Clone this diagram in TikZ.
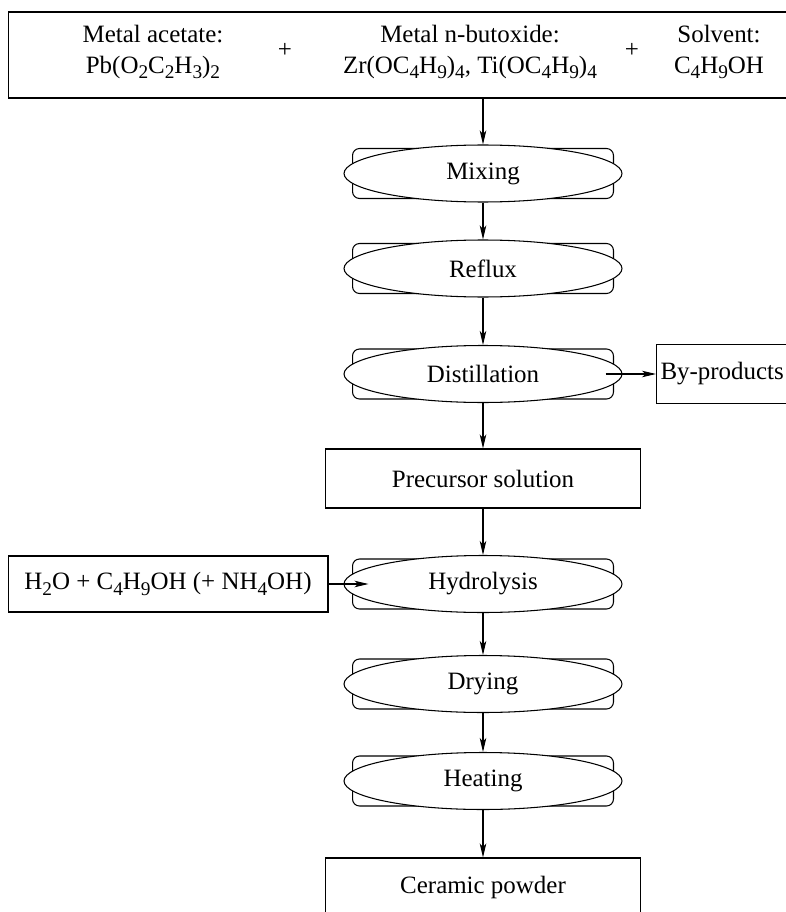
\documentclass[tikz,border=0pt]{standalone}
\usepackage{fontspec}
\setmainfont{Liberation Serif}
\usetikzlibrary{shapes.geometric,arrows.meta}
\newcommand{\chemsub}[1]{\raisebox{-0.5ex}{\fontsize{11}{12}\selectfont #1}}

\tikzset{
  proc/.style={ellipse, draw, fill=white, minimum width=5.56cm, minimum height=1.14cm, inner sep=0pt},
  procframe/.style={draw, rounded corners=0.14cm, minimum width=5.22cm, minimum height=1cm},
  flowbox/.style={rectangle, draw, minimum width=6.3cm, minimum height=1.18cm},
  flow/.style={->, >={Stealth[length=0.28cm,width=0.13cm,inset=0.07cm]}}
}

\begin{document}
\begin{tikzpicture}[x=0.02cm, y=-0.02cm, line width=0.6pt,
                    every node/.append style={font=\fontsize{14.2}{17.5}\selectfont}]
  \useasboundingbox (0,0) rectangle (786,912);
  \clip (0,0) rectangle (786,912);

  % starting materials
  \node (src) at (404,55) [draw, minimum width=15.84cm, minimum height=1.72cm] {};
  \node (acetate) at (153,52) [align=center] {Metal acetate:\\Pb(O\chemsub{2}C\chemsub{2}H\chemsub{3})\chemsub{2}};
  \node (plus1) at (285,50) {+};
  \node (butoxide) at (470,52) [align=center] {Metal n-butoxide:\\Zr(OC\chemsub{4}H\chemsub{9})\chemsub{4}, Ti(OC\chemsub{4}H\chemsub{9})\chemsub{4}};
  \node (plus2) at (632,50) {+};
  \node (solvent) at (719,52) [align=center] {Solvent:\\C\chemsub{4}H\chemsub{9}OH};

  % process steps
  \node (mixframe) at (483,173.5) [procframe] {};
  \node (mix) at (483,173.5) [proc] {Mixing};
  \node (refluxframe) at (483,268.5) [procframe] {};
  \node (reflux) at (483,268.5) [proc] {Reflux};
  \node (distframe) at (483,374) [procframe] {};
  \node (dist) at (483,374) [proc] {Distillation};
  \node (byprod) at (656,374) [draw, anchor=west, inner xsep=0.08cm, minimum height=1.18cm] {By-products};

  \node (precursor) at (483,478.5) [flowbox] {Precursor solution};

  \node (hydframe) at (483,584) [procframe] {};
  \node (hyd) at (483,584) [proc] {Hydrolysis};
  \node (water) at (168,584) [draw, minimum width=6.4cm, minimum height=1.12cm] {H\chemsub{2}O + C\chemsub{4}H\chemsub{9}OH (+ NH\chemsub{4}OH)};
  \node (dryframe) at (483,684) [procframe] {};
  \node (dry) at (483,684) [proc] {Drying};
  \node (heatframe) at (483,781) [procframe] {};
  \node (heat) at (483,781) [proc] {Heating};

  \node (ceramic) at (483,887.5) [flowbox] {Ceramic powder};

  % connectors
  \draw[flow] (mix |- src.south) -- (mix);
  \draw[flow] (mix) -- (reflux);
  \draw[flow] (reflux) -- (dist);
  \draw[flow] ([xshift=-0.34cm]dist.east) -- (byprod);
  \draw[flow] (dist) -- (precursor);
  \draw[flow] (precursor) -- (hyd);
  \draw[flow] (water) -- ([xshift=0.5cm]hyd.west);
  \draw[flow] (hyd) -- (dry);
  \draw[flow] (dry) -- (heat);
  \draw[flow] (heat) -- (ceramic);
\end{tikzpicture}
\end{document}
